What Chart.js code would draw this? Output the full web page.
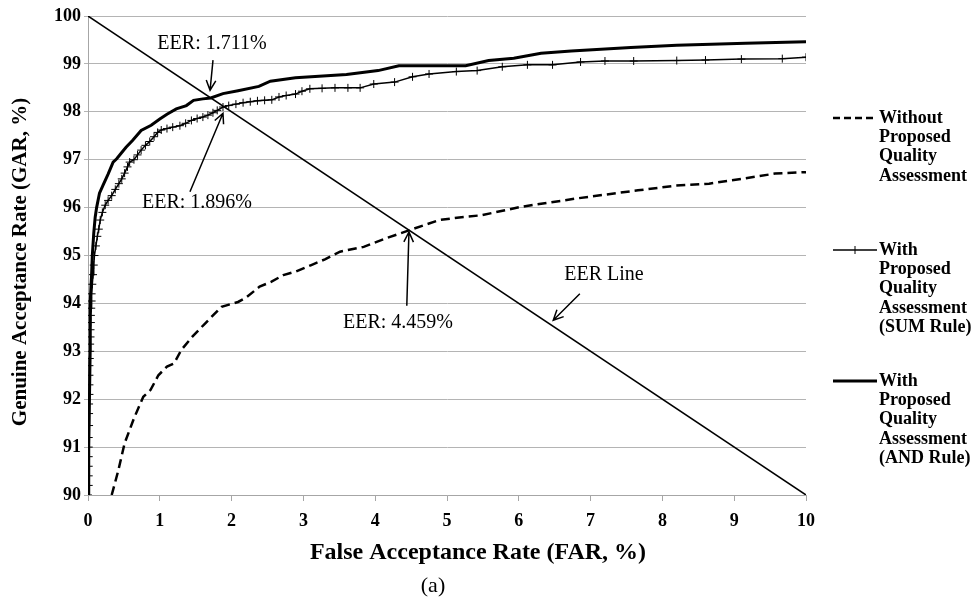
<!DOCTYPE html>
<html>
<head>
<meta charset="utf-8">
<script src="https://cdn.jsdelivr.net/npm/chart.js@4.4.1/dist/chart.umd.min.js"></script>
<style>
  html, body { margin: 0; padding: 0; background: #fff; }
  #wrap { width: 974px; height: 603px; }
</style>
</head>
<body>
<div id="wrap"><canvas id="myChart" width="974" height="603"></canvas></div>
<script>
// Data (FAR %, GAR %)
const withoutFar = [0.33, 0.42, 0.51, 0.64, 0.77, 0.87, 0.98, 1.1, 1.2, 1.3, 1.45, 1.63, 1.86, 2.09, 2.2, 2.39, 2.55, 2.72, 2.9, 3.11, 3.3, 3.51, 3.84, 4.17, 4.5, 4.89, 5.2, 5.48, 6.01, 6.4, 6.8, 7.2, 7.66, 8.19, 8.65, 9.11, 9.57, 10];
const withoutGar = [90.0, 90.5, 91.08, 91.6, 92.05, 92.19, 92.5, 92.68, 92.75, 93.03, 93.3, 93.58, 93.93, 94.03, 94.12, 94.35, 94.45, 94.59, 94.67, 94.8, 94.92, 95.08, 95.18, 95.37, 95.54, 95.74, 95.8, 95.84, 96.01, 96.1, 96.19, 96.27, 96.36, 96.46, 96.5, 96.6, 96.71, 96.74];

const sumFar = [0, 0.01, 0.01, 0.01, 0.01, 0.01, 0.01, 0.015, 0.015, 0.015, 0.02, 0.02, 0.02, 0.02, 0.025, 0.03, 0.03, 0.035, 0.035, 0.04, 0.04, 0.045, 0.05, 0.05, 0.06, 0.07, 0.08, 0.09, 0.11, 0.13, 0.15, 0.17, 0.2, 0.24, 0.28, 0.33, 0.38, 0.43, 0.47, 0.51, 0.55, 0.58, 0.64, 0.69, 0.74, 0.8, 0.86, 0.92, 0.97, 1.02, 1.1, 1.18, 1.28, 1.36, 1.44, 1.52, 1.6, 1.67, 1.74, 1.8, 1.88, 1.96, 2.06, 2.16, 2.26, 2.36, 2.46, 2.56, 2.66, 2.76, 2.89, 2.98, 3.09, 3.26, 3.44, 3.62, 3.79, 3.98, 4.27, 4.52, 4.75, 5.13, 5.42, 5.77, 6.12, 6.47, 6.86, 7.2, 7.6, 8.2, 8.6, 9.1, 9.67, 10];
const sumGar = [90.0, 90.2, 90.4, 90.6, 90.8, 91.0, 91.2, 91.45, 91.7, 91.9, 92.1, 92.3, 92.5, 92.7, 92.85, 93.0, 93.15, 93.3, 93.45, 93.6, 93.75, 93.9, 94.05, 94.2, 94.4, 94.6, 94.8, 95.0, 95.2, 95.4, 95.55, 95.74, 95.9, 96.05, 96.15, 96.25, 96.38, 96.5, 96.6, 96.72, 96.85, 96.95, 97.0, 97.1, 97.2, 97.3, 97.38, 97.48, 97.57, 97.62, 97.65, 97.68, 97.71, 97.76, 97.82, 97.86, 97.89, 97.93, 97.98, 98.03, 98.1, 98.13, 98.16, 98.19, 98.21, 98.23, 98.24, 98.25, 98.31, 98.34, 98.37, 98.43, 98.48, 98.49, 98.5, 98.5, 98.5, 98.58, 98.62, 98.73, 98.79, 98.84, 98.86, 98.94, 98.98, 98.98, 99.04, 99.06, 99.06, 99.07, 99.08, 99.1, 99.11, 99.14];

const andFar = [0, 0.01, 0.02, 0.03, 0.03, 0.05, 0.06, 0.08, 0.1, 0.12, 0.16, 0.21, 0.28, 0.35, 0.4, 0.47, 0.53, 0.62, 0.74, 0.88, 1.0, 1.1, 1.23, 1.37, 1.47, 1.6, 1.71, 1.88, 2.09, 2.38, 2.54, 2.89, 3.6, 4.04, 4.33, 5.26, 5.58, 5.93, 6.31, 6.73, 7.56, 8.2, 9.16, 10];
const andGar = [90, 91, 92, 93, 94, 94.6, 95.0, 95.46, 95.8, 96.0, 96.3, 96.47, 96.7, 96.95, 97.02, 97.15, 97.26, 97.4, 97.61, 97.72, 97.85, 97.95, 98.06, 98.13, 98.24, 98.27, 98.29, 98.38, 98.44, 98.53, 98.64, 98.71, 98.78, 98.86, 98.96, 98.96, 99.07, 99.12, 99.22, 99.27, 99.34, 99.39, 99.43, 99.46];

const eerFar = [0, 10];
const eerGar = [100, 90];

const seriesNames = [
  ["Without", "Proposed", "Quality", "Assessment"],
  ["With", "Proposed", "Quality", "Assessment", "(SUM Rule)"],
  ["With", "Proposed", "Quality", "Assessment", "(AND Rule)"],
];

// annotations: text, text centre, arrow start, arrow tip (data units)
const notes = [
  { text: "EER: 1.711%", at: [1.727, 99.415], from: [1.741, 99.08], to: [1.70, 98.45] },
  { text: "EER: 1.896%", at: [1.518, 96.096], from: [1.42, 96.33], to: [1.88, 97.97] },
  { text: "EER: 4.459%", at: [4.318, 93.591], from: [4.44, 93.95], to: [4.47, 95.49] },
  { text: "EER Line", at: [7.187, 94.593], from: [6.85, 94.2], to: [6.48, 93.65] },
];

const pts = (xs, ys) => xs.map((v, i) => ({ x: v, y: ys[i] }));

function arrow(ctx, x1, y1, x2, y2) {
  const a = Math.atan2(y2 - y1, x2 - x1);
  const len = 11, sp = 0.45;
  ctx.beginPath();
  ctx.moveTo(x1, y1);
  ctx.lineTo(x2, y2);
  ctx.moveTo(x2 - len * Math.cos(a - sp), y2 - len * Math.sin(a - sp));
  ctx.lineTo(x2, y2);
  ctx.lineTo(x2 - len * Math.cos(a + sp), y2 - len * Math.sin(a + sp));
  ctx.stroke();
}

const overlay = {
  id: "overlay",
  afterDatasetsDraw(chart) {
    const { ctx, scales } = chart;
    const sx = (v) => scales.x.getPixelForValue(v);
    const sy = (v) => scales.y.getPixelForValue(v);
    ctx.save();
    ctx.fillStyle = "#000";
    ctx.strokeStyle = "#000";
    ctx.lineWidth = 1.5;

    // EER labels + arrows
    ctx.font = "20px 'Liberation Serif'";
    ctx.textAlign = "center";
    ctx.textBaseline = "middle";
    notes.forEach((n) => {
      ctx.fillText(n.text, sx(n.at[0]), sy(n.at[1]));
      arrow(ctx, sx(n.from[0]), sy(n.from[1]), sx(n.to[0]), sy(n.to[1]));
    });

    // axis titles and caption
    ctx.font = "bold 24px 'Liberation Serif'";
    ctx.fillText("False Acceptance Rate (FAR, %)", 478, 553);
    ctx.font = "22px 'Liberation Serif'";
    ctx.fillText("(a)", 433, 586);
    ctx.save();
    ctx.translate(21, 262);
    ctx.rotate(-Math.PI / 2);
    ctx.font = "bold 21px 'Liberation Serif'";
    ctx.fillText("Genuine Acceptance Rate (GAR, %)", 0, 0);
    ctx.restore();

    // legend
    const tops = [118, 250, 381];
    const lx0 = 833, lx1 = 877, lh = 19.3;
    ctx.textAlign = "left";
    ctx.font = "bold 18px 'Liberation Serif'";
    seriesNames.forEach((lines, i) => {
      const yy = tops[i];
      ctx.beginPath();
      ctx.setLineDash(i === 0 ? [7, 4] : []);
      ctx.lineWidth = i === 0 ? 2.5 : i === 1 ? 1.5 : 3;
      ctx.moveTo(lx0, yy);
      ctx.lineTo(lx1, yy);
      ctx.stroke();
      ctx.setLineDash([]);
      if (i === 1) {
        ctx.lineWidth = 1;
        ctx.beginPath();
        ctx.moveTo(855, yy - 4);
        ctx.lineTo(855, yy + 4);
        ctx.stroke();
      }
      lines.forEach((t, j) => ctx.fillText(t, 879, yy + j * lh));
    });
    ctx.restore();
  },
};

const ctx = document.getElementById("myChart").getContext("2d");
new Chart(ctx, {
  type: "line",
  data: {
    datasets: [
      {
        label: "EER Line",
        data: pts(eerFar, eerGar),
        borderColor: "#000",
        borderWidth: 1.5,
        pointRadius: 0,
      },
      {
        label: "Without Proposed Quality Assessment",
        data: pts(withoutFar, withoutGar),
        borderColor: "#000",
        borderWidth: 2.5,
        borderDash: [9, 5],
        pointRadius: 0,
      },
      {
        label: "With Proposed Quality Assessment (SUM Rule)",
        data: pts(sumFar, sumGar),
        borderColor: "#000",
        borderWidth: 1.5,
        pointStyle: "cross",
        pointRadius: 4,
        pointBorderWidth: 1,
        pointBorderColor: "#000",
      },
      {
        label: "With Proposed Quality Assessment (AND Rule)",
        data: pts(andFar, andGar),
        borderColor: "#000",
        borderWidth: 3,
        pointRadius: 0,
      },
    ],
  },
  options: {
    responsive: false,
    animation: false,
    layout: { padding: { left: 0, right: 168, top: 16, bottom: 0 } },
    plugins: {
      legend: { display: false },
      tooltip: { enabled: false },
    },
    scales: {
      x: {
        type: "linear",
        min: 0,
        max: 10,
        ticks: {
          stepSize: 1,
          color: "#000",
          padding: 10,
          font: { family: "'Liberation Serif'", size: 18, weight: "bold" },
        },
        grid: { drawOnChartArea: false, drawTicks: true, tickLength: 6, color: "#a6a6a6" },
        border: { color: "#a6a6a6" },
        afterFit(scale) { scale.height = 108; },
      },
      y: {
        min: 90,
        max: 100,
        ticks: {
          stepSize: 1,
          color: "#000",
          padding: 3,
          font: { family: "'Liberation Serif'", size: 18, weight: "bold" },
        },
        grid: { color: "#b4b4b4", tickLength: 4 },
        border: { color: "#a6a6a6" },
        afterFit(scale) { scale.width = 88; },
      },
    },
  },
  plugins: [overlay],
});
</script>
</body>
</html>
